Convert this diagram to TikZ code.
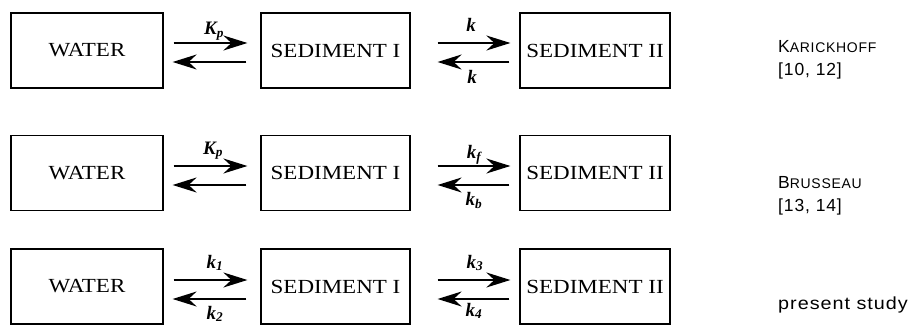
\documentclass[tikz,border=0pt]{standalone}
\usepackage{fontspec}
\setmainfont{Liberation Serif}
\newfontfamily\labfont[LetterSpace=5]{Liberation Sans}
\usetikzlibrary{arrows.meta}
\tikzset{
  rate/.style={-{Stealth[length=24pt,width=15pt,inset=8pt]}, line width=2pt},
}
\begin{document}
\begin{tikzpicture}[x=1pt,y=-1pt,
  box/.style={draw, line width=1.2pt, minimum height=75pt, inner sep=0pt, font=\fontsize{20}{22}\selectfont},
  kl/.style={font=\fontsize{19}{20}\selectfont\bfseries\itshape, inner sep=0pt, anchor=base},
  refl/.style={anchor=base west, inner sep=0pt, font=\labfont\fontsize{17.5}{20}\selectfont}]
\useasboundingbox (0,0) rectangle (912,326);

% boxes
\foreach \r/\y in {1/50.5, 2/173, 3/286.5}{
  \node[box, minimum width=152pt] (w\r) at (87,\y) {\scalebox{1.15}[1]{WATER}};
  \node[box, minimum width=149pt] (s\r) at (335.5,\y) {\scalebox{1.15}[1]{SEDIMENT I}};
  \node[box, minimum width=150pt] (t\r) at (595,\y) {\scalebox{1.15}[1]{SEDIMENT II}};
}

% row 1
\draw[rate, shorten <=10pt, shorten >=13pt] ([yshift=7.5pt]w1.east) -- ([yshift=7.5pt]s1.west)
  node[kl, midway, yshift=8pt, xshift=2pt] (k1a) {K\textsubscript{p}};
\draw[rate, shorten <=14pt, shorten >=9pt] ([yshift=-11.5pt]s1.west) -- ([yshift=-11.5pt]w1.east);
\draw[rate, shorten <=27pt, shorten >=9pt] ([yshift=7.5pt]s1.east) -- ([yshift=7.5pt]t1.west)
  node[kl, midway, yshift=11pt, xshift=6pt] (k1b) {k};
\draw[rate, shorten <=10pt, shorten >=27pt] ([yshift=-11.5pt]t1.west) -- ([yshift=-11.5pt]s1.east)
  node[kl, midway, yshift=-22pt, xshift=7pt] (k1c) {k};

% row 2
\draw[rate, shorten <=10pt, shorten >=13pt] ([yshift=7pt]w2.east) -- ([yshift=7pt]s2.west)
  node[kl, midway, yshift=12pt, xshift=1pt] (k2a) {K\textsubscript{p}};
\draw[rate, shorten <=14pt, shorten >=9pt] ([yshift=-12pt]s2.west) -- ([yshift=-12pt]w2.east);
\draw[rate, shorten <=27pt, shorten >=9pt] ([yshift=7pt]s2.east) -- ([yshift=7pt]t2.west)
  node[kl, midway, yshift=8pt, xshift=9pt] (k2b) {k\textsubscript{f}};
\draw[rate, shorten <=10pt, shorten >=27pt] ([yshift=-12pt]t2.west) -- ([yshift=-12pt]s2.east)
  node[kl, midway, yshift=-20pt, xshift=9pt] (k2c) {k\textsubscript{b}};

% row 3
\draw[rate, shorten <=10pt, shorten >=13pt] ([yshift=6.5pt]w3.east) -- ([yshift=6.5pt]s3.west)
  node[kl, midway, yshift=12pt, xshift=3pt] (k3a) {k\textsubscript{1}};
\draw[rate, shorten <=14pt, shorten >=9pt] ([yshift=-12.5pt]s3.west) -- ([yshift=-12.5pt]w3.east)
  node[kl, midway, yshift=-20pt, xshift=3pt] (k3b) {k\textsubscript{2}};
\draw[rate, shorten <=27pt, shorten >=9pt] ([yshift=6.5pt]s3.east) -- ([yshift=6.5pt]t3.west)
  node[kl, midway, yshift=12pt, xshift=10pt] (k3c) {k\textsubscript{3}};
\draw[rate, shorten <=10pt, shorten >=27pt] ([yshift=-12.5pt]t3.west) -- ([yshift=-12.5pt]s3.east)
  node[kl, midway, yshift=-17pt, xshift=9pt] (k3d) {k\textsubscript{4}};

% references
\node[refl] (ra) at (778,53) {K{\fontsize{14}{16}\selectfont ARICKHOFF}};
\node[refl] (rb) at (778,76) {[10, 12]};
\node[refl] (rc) at (778,188) {B{\fontsize{14}{16}\selectfont RUSSEAU}};
\node[refl] (rd) at (778,211) {[13, 14]};
\node[refl] (re) at (778,309) {\scalebox{1.13}[1]{present study}};
\end{tikzpicture}
\end{document}
